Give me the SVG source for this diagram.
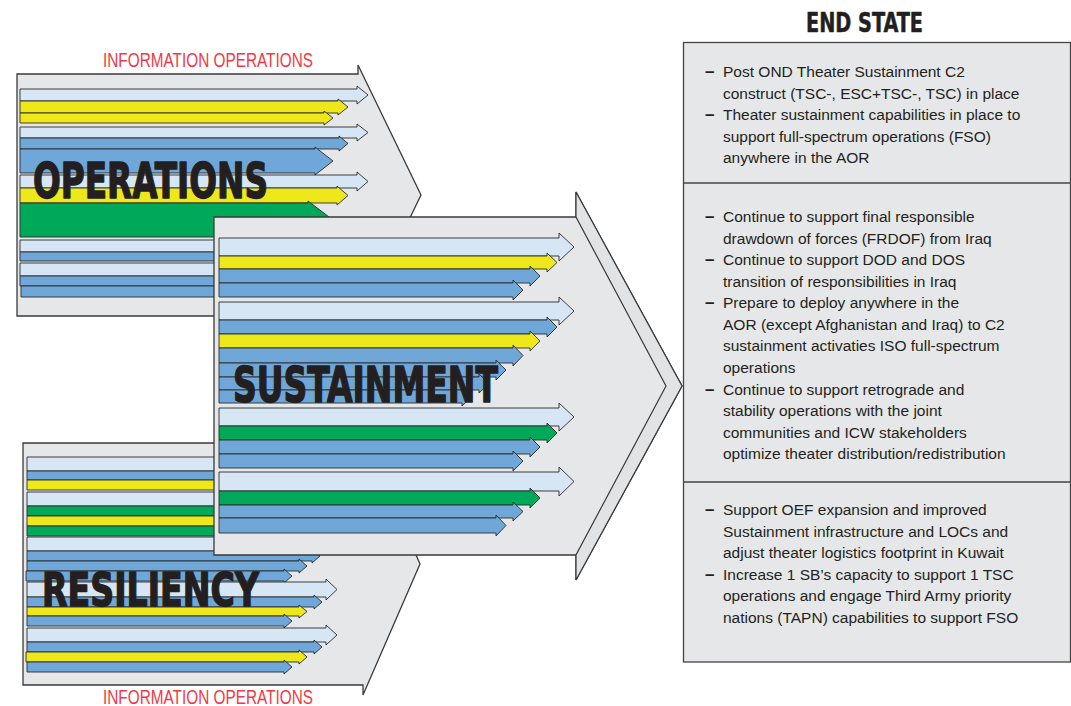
<svg xmlns="http://www.w3.org/2000/svg" width="1071" height="706" viewBox="0 0 1071 706">
<style>
.chev{fill:#E6E7E8;stroke:#3a3a3a;stroke-width:1.3;stroke-linejoin:miter}
.bar{stroke:#2a2a2a;stroke-width:0.9;stroke-linejoin:miter}
.lb{fill:#D6E6F4}
.y{fill:#EEE71A}
.b{fill:#6FA7D8}
.g{fill:#00A85A}
.big{font-family:"Liberation Sans Narrow","DejaVu Sans Condensed","Liberation Sans",sans-serif;font-weight:bold;fill:#231F20;stroke:#231F20;stroke-width:1.4;stroke-linejoin:round}
.title{font-family:"Liberation Sans Narrow","DejaVu Sans Condensed","Liberation Sans",sans-serif;font-weight:bold;fill:#231F20;stroke:#231F20;stroke-width:0.5}
.io{font-family:"Liberation Sans Narrow","Liberation Sans",sans-serif;font-size:19.5px;fill:#EE3B47}
.body{font-family:"Liberation Sans",Arial,sans-serif;font-size:15.5px;fill:#231F20}
.dash{font-family:"Liberation Sans",Arial,sans-serif;font-size:17px;font-weight:bold;fill:#231F20}
</style>
<rect width="1071" height="706" fill="#FFFFFF"/>

<g id="info-ops-top">
<text class="io" x="103" y="67" textLength="210" lengthAdjust="spacingAndGlyphs">INFORMATION  OPERATIONS</text>
</g>

<g id="operations">
<polygon class="chev" points="17,74 358,74 358,65 421,195 358,325 358,316 17,316"/>
<polygon class="bar lb" points="20,89 357,89 357,86 368,95 357,104 357,101 20,101"/>
<polygon class="bar y" points="20,101 338,101 338,99 348,107 338,115 338,113 20,113"/>
<polygon class="bar y" points="20,113 324,113 324,111 333,118 324,125 324,123 20,123"/>
<polygon class="bar lb" points="20,127 357,127 357,124 368,132.5 357,141 357,138 20,138"/>
<polygon class="bar b" points="20,138 339,138 339,136 348,143.5 339,151 339,149 20,149"/>
<polygon class="bar b" points="20,149 315,149 315,147 333,161 315,175 315,173 20,173"/>
<polygon class="bar lb" points="20,175 357,175 357,172 368,181.5 357,191 357,188 20,188"/>
<polygon class="bar y" points="20,188 337,188 337,186 348,195.5 337,205 337,203 20,203"/>
<polygon class="bar g" points="20,203 308,203 308,201 333,220 308,239 308,237 20,237"/>
<polygon class="bar lb" points="20,240 357,240 357,237 368,246 357,255 357,252 20,252"/>
<polygon class="bar b" points="20,252 339,252 339,250 348,256.5 339,263 339,261 20,261"/>
<polygon class="bar lb" points="20,263 357,263 357,260 368,269.5 357,279 357,276 20,276"/>
<polygon class="bar b" points="20,276 339,276 339,274 348,281 339,288 339,286 20,286"/>
<polygon class="bar b" points="21,286 324,286 324,284 333,291.5 324,299 324,297 21,297"/>
<text class="big" x="33" y="198" font-size="50" textLength="235" lengthAdjust="spacingAndGlyphs">OPERATIONS</text>
</g>

<g id="resiliency">
<polygon class="chev" points="23,443 363,443 363,433 420,564 363,695 363,685 23,685"/>
<polygon class="bar lb" points="27,457 326,457 326,454 337,464 326,474 326,471 27,471"/>
<polygon class="bar b" points="27,471 314,471 314,469 322,475.5 314,482 314,480 27,480"/>
<polygon class="bar y" points="27,480 299,480 299,478 307,485 299,492 299,490 27,490"/>
<polygon class="bar lb" points="27,492 326,492 326,489 337,499 326,509 326,506 27,506"/>
<polygon class="bar g" points="27,506 314,506 314,504 322,511 314,518 314,516 27,516"/>
<polygon class="bar y" points="27,516 299,516 299,514 307,521 299,528 299,526 27,526"/>
<polygon class="bar g" points="27,526 284,526 284,524 292,531 284,538 284,536 27,536"/>
<polygon class="bar lb" points="27,537 326,537 326,534 337,544 326,554 326,551 27,551"/>
<polygon class="bar b" points="27,551 312,551 312,549 320,556 312,563 312,561 27,561"/>
<polygon class="bar b" points="27,561 299,561 299,559 307,566 299,573 299,571 27,571"/>
<polygon class="bar b" points="26,571 284,571 284,569 292,576 284,583 284,581 26,581"/>
<polygon class="bar lb" points="27,582 326,582 326,579 337,589.5 326,600 326,597 27,597"/>
<polygon class="bar b" points="27,597 314,597 314,595 322,602 314,609 314,607 27,607"/>
<polygon class="bar y" points="27,607 299,607 299,605 307,611.5 299,618 299,616 27,616"/>
<polygon class="bar b" points="27,616 284,616 284,614 292,621 284,628 284,626 27,626"/>
<polygon class="bar lb" points="27,628 326,628 326,625 337,635 326,645 326,642 27,642"/>
<polygon class="bar b" points="27,642 314,642 314,640 322,647 314,654 314,652 27,652"/>
<polygon class="bar y" points="26,652 299,652 299,650 307,657 299,664 299,662 26,662"/>
<polygon class="bar b" points="27,662 284,662 284,660 292,667 284,674 284,672 27,672"/>
<text class="big" x="42" y="606" font-size="47" textLength="217" lengthAdjust="spacingAndGlyphs">RESILIENCY</text>
</g>

<g id="sustainment">
<polygon class="chev" points="214,217 576,217 576,192 682,386 576,580 576,555 214,555"/>
<polygon points="576,192 682,386 576,580 576,555 666,386 576,217" fill="#E2E3E5" stroke="#3a3a3a" stroke-width="1.2" stroke-linejoin="miter"/>
<polygon class="bar lb" points="219,238 559,238 559,233 574,247 559,261 559,256 219,256"/>
<polygon class="bar y" points="219,256 547,256 547,253 557,262.5 547,272 547,269 219,269"/>
<polygon class="bar b" points="219,269 530,269 530,266 540,276 530,286 530,283 219,283"/>
<polygon class="bar b" points="219,283 513,283 513,280 523,290 513,300 513,297 219,297"/>
<polygon class="bar lb" points="219,302 559,302 559,297 574,311 559,325 559,320 219,320"/>
<polygon class="bar b" points="219,320 547,320 547,317 557,327 547,337 547,334 219,334"/>
<polygon class="bar y" points="219,334 530,334 530,331 540,341 530,351 530,348 219,348"/>
<polygon class="bar b" points="219,348 513,348 513,345 523,355.5 513,366 513,363 219,363"/>
<polygon class="bar b" points="219,363 496,363 496,360 506,370 496,380 496,377 219,377"/>
<polygon class="bar b" points="219,377 479,377 479,374 489,383.5 479,393 479,390 219,390"/>
<polygon class="bar b" points="219,390 462,390 462,387 472,396.5 462,406 462,403 219,403"/>
<polygon class="bar lb" points="219,408 559,408 559,403 574,417 559,431 559,426 219,426"/>
<polygon class="bar g" points="219,426 547,426 547,423 557,433 547,443 547,440 219,440"/>
<polygon class="bar b" points="219,440 530,440 530,437 540,447 530,457 530,454 219,454"/>
<polygon class="bar b" points="219,454 513,454 513,451 523,461 513,471 513,468 219,468"/>
<polygon class="bar lb" points="219,472 559,472 559,467 574,481.5 559,496 559,491 219,491"/>
<polygon class="bar g" points="219,491 530,491 530,488 540,498 530,508 530,505 219,505"/>
<polygon class="bar b" points="219,505 513,505 513,502 523,511.5 513,521 513,518 219,518"/>
<polygon class="bar b" points="219,518 496,518 496,515 506,525.5 496,536 496,533 219,533"/>
<text class="big" x="233" y="402" font-size="50" textLength="265" lengthAdjust="spacingAndGlyphs">SUSTAINMENT</text>
</g>

<g id="info-ops-bottom">
<text class="io" x="103" y="704" textLength="210" lengthAdjust="spacingAndGlyphs">INFORMATION  OPERATIONS</text>
</g>

<g id="end-state">
<text class="title" x="806" y="32" font-size="26" textLength="117" lengthAdjust="spacingAndGlyphs">END STATE</text>
<rect x="683.5" y="42.5" width="387" height="619.5" fill="#E6E7E8" stroke="#444" stroke-width="1.3"/>
<line x1="683.5" y1="183" x2="1071" y2="183" stroke="#444" stroke-width="1.3"/>
<line x1="683.5" y1="482" x2="1071" y2="482" stroke="#444" stroke-width="1.3"/>
<g id="end-state-1">
<text class="dash" x="705" y="77">–</text>
<text class="body" x="723" y="77">Post OND Theater Sustainment C2</text>
<text class="body" x="723" y="98.5">construct (TSC-, ESC+TSC-, TSC) in place</text>
<text class="dash" x="705" y="120">–</text>
<text class="body" x="723" y="120">Theater sustainment capabilities in place to</text>
<text class="body" x="723" y="141.5">support full-spectrum operations (FSO)</text>
<text class="body" x="723" y="163">anywhere in the AOR</text>
</g>
<g id="end-state-2">
<text class="dash" x="705" y="222">–</text>
<text class="body" x="723" y="222">Continue to support final responsible</text>
<text class="body" x="723" y="243.5">drawdown of forces (FRDOF) from Iraq</text>
<text class="dash" x="705" y="265">–</text>
<text class="body" x="723" y="265">Continue to support DOD and DOS</text>
<text class="body" x="723" y="286.5">transition of responsibilities in Iraq</text>
<text class="dash" x="705" y="308">–</text>
<text class="body" x="723" y="308">Prepare to deploy anywhere in the</text>
<text class="body" x="723" y="329.5">AOR (except Afghanistan and Iraq) to C2</text>
<text class="body" x="723" y="351">sustainment activaties ISO full-spectrum</text>
<text class="body" x="723" y="372.5">operations</text>
<text class="dash" x="705" y="394.5">–</text>
<text class="body" x="723" y="394.5">Continue to support retrograde and</text>
<text class="body" x="723" y="416">stability operations with the joint</text>
<text class="body" x="723" y="437.5">communities and ICW stakeholders</text>
<text class="body" x="723" y="459">optimize theater distribution/redistribution</text>
</g>
<g id="end-state-3">
<text class="dash" x="705" y="515">–</text>
<text class="body" x="723" y="515">Support OEF expansion and improved</text>
<text class="body" x="723" y="536.5">Sustainment infrastructure and LOCs and</text>
<text class="body" x="723" y="558">adjust theater logistics footprint in Kuwait</text>
<text class="dash" x="705" y="579.5">–</text>
<text class="body" x="723" y="579.5">Increase 1 SB’s capacity to support 1 TSC</text>
<text class="body" x="723" y="601">operations and engage Third Army priority</text>
<text class="body" x="723" y="622.5">nations (TAPN) capabilities to support FSO</text>
</g>
</g>
<g id="connectors"/>
</svg>
